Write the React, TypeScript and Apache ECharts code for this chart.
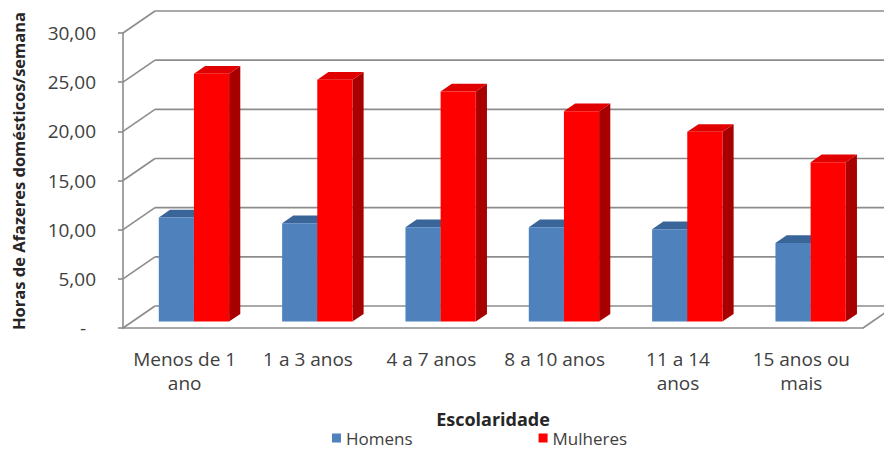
import React, { useEffect, useRef } from "react";
import * as echarts from "echarts";

// Education level (x axis) and weekly hours of housework per group
const categories = [
  "Menos de 1\nano",
  "1 a 3 anos",
  "4 a 7 anos",
  "8 a 10 anos",
  "11 a 14\nanos",
  "15 anos ou\nmais",
];
const homens = [10.6, 10.0, 9.6, 9.6, 9.4, 8.0];
const mulheres = [25.2, 24.6, 23.4, 21.4, 19.3, 16.2];
const gridValues = [0, 5, 10, 15, 20, 25, 30];

const FONT = "'Open Sans', 'Noto Sans', sans-serif";
const TEXT = "#404040";
const FRAME = "#8c8c8c";

// oblique depth of the 3D box (full depth, in px)
const DEPTH_X = 32;
const DEPTH_Y = -22;
// where the bars sit inside the depth
const F_FRONT = 0.29;
const F_BACK = 0.64;
const BAR_RATIO = 0.285;

const palette = [
  { front: "#4f81bd", top: "#3a6599", side: "#2f5685" },
  { front: "#ff0000", top: "#e00000", side: "#a80000" },
];

function barRenderer(side: number) {
  const c = palette[side];
  return (params: any, api: any) => {
    const cat = api.value(0);
    const v = api.value(1);
    const top = api.coord([cat, v]);
    const yTop = top[1];
    const yBase = api.coord([cat, 0])[1];
    const band = api.size([1, 0])[0];
    const w = band * BAR_RATIO;
    const x0 = side === 0 ? top[0] - w : top[0];
    const x1 = x0 + w;
    const fx = DEPTH_X * F_FRONT;
    const fy = DEPTH_Y * F_FRONT;
    const bx = DEPTH_X * F_BACK;
    const by = DEPTH_Y * F_BACK;
    return {
      type: "group",
      children: [
        {
          type: "polygon",
          shape: {
            points: [
              [x1 + fx, yTop + fy],
              [x1 + bx, yTop + by],
              [x1 + bx, yBase + by],
              [x1 + fx, yBase + fy],
            ],
          },
          style: { fill: c.side },
        },
        {
          type: "polygon",
          shape: {
            points: [
              [x0 + fx, yTop + fy],
              [x1 + fx, yTop + fy],
              [x1 + bx, yTop + by],
              [x0 + bx, yTop + by],
            ],
          },
          style: { fill: c.top },
        },
        {
          type: "rect",
          shape: { x: x0 + fx, y: yTop + fy, width: w, height: yBase - yTop },
          style: { fill: c.front },
        },
      ],
    };
  };
}

// side wall and back wall lines for every value tick, plus the floor's right edge
function frameRenderer(params: any, api: any) {
  const cs = params.coordSys;
  const v = api.value(1);
  const y = api.coord([0, v])[1];
  const left = cs.x;
  const right = cs.x + cs.width;
  const style = { stroke: FRAME, lineWidth: 1.6, fill: "none" };
  const children: any[] = [
    {
      type: "line",
      shape: { x1: left, y1: y, x2: left + DEPTH_X, y2: y + DEPTH_Y },
      style,
    },
    {
      type: "line",
      shape: { x1: left + DEPTH_X, y1: y + DEPTH_Y, x2: right + DEPTH_X, y2: y + DEPTH_Y },
      style,
    },
  ];
  if (v === 0) {
    children.push({
      type: "line",
      shape: { x1: right, y1: y, x2: right + DEPTH_X, y2: y + DEPTH_Y },
      style,
    });
  }
  return { type: "group", children };
}

export default function App() {
  const ref = useRef<HTMLDivElement>(null);

  useEffect(() => {
    document.body.style.margin = "0";
    const chart = echarts.init(ref.current!, undefined, { renderer: "svg" });
    chart.setOption({
      animation: false,
      backgroundColor: "#ffffff",
      textStyle: { fontFamily: FONT },
      grid: { left: 123, top: 33, width: 740, height: 295 },
      legend: {
        data: ["Homens", "Mulheres"],
        left: 327,
        top: 423,
        icon: "rect",
        itemWidth: 9,
        itemHeight: 9,
        itemGap: 126,
        textStyle: { fontFamily: FONT, fontSize: 17, color: TEXT, lineHeight: 20 },
        selectedMode: false,
      },
      graphic: [
        {
          type: "text",
          x: 18,
          y: 171,
          rotation: Math.PI / 2,
          style: {
            text: "Horas de Afazeres domésticos/semana",
            fontFamily: FONT,
            fontSize: 16.5,
            fontWeight: "bold",
            fill: "#262626",
            textAlign: "center",
            textVerticalAlign: "middle",
          },
        },
      ],
      xAxis: {
        type: "category",
        data: categories,
        name: "Escolaridade",
        nameLocation: "middle",
        nameGap: 82,
        nameTextStyle: { fontFamily: FONT, fontSize: 18, fontWeight: "bold", color: "#262626" },
        axisLine: { show: true, lineStyle: { color: FRAME, width: 1.6 } },
        axisTick: { show: false },
        axisLabel: {
          interval: 0,
          margin: 19,
          fontFamily: FONT,
          fontSize: 19,
          lineHeight: 24,
          color: TEXT,
        },
        splitLine: { show: false },
      },
      yAxis: {
        type: "value",
        min: 0,
        max: 30,
        interval: 5,
        axisLine: { show: true, lineStyle: { color: FRAME, width: 1.6 } },
        axisTick: { show: true, length: 5, lineStyle: { color: FRAME, width: 1.6 } },
        splitLine: { show: false },
        axisLabel: {
          margin: 27,
          fontFamily: FONT,
          fontSize: 19,
          color: TEXT,
          formatter: (v: number) => (v === 0 ? "{d|-}" : v.toFixed(2).replace(".", ",")),
          rich: { d: { fontFamily: FONT, fontSize: 19, color: TEXT, padding: [0, 10, 0, 0] } },
        },
      },
      series: [
        {
          type: "custom",
          name: "frame",
          silent: true,
          z: 1,
          renderItem: frameRenderer,
          encode: { x: 0, y: 1 },
          data: gridValues.map((v) => [0, v]),
        },
        {
          type: "custom",
          name: "Homens",
          silent: true,
          z: 2,
          itemStyle: { color: palette[0].front },
          renderItem: barRenderer(0),
          encode: { x: 0, y: 1 },
          data: homens.map((v, i) => [i, v]),
        },
        {
          type: "custom",
          name: "Mulheres",
          silent: true,
          z: 3,
          itemStyle: { color: palette[1].front },
          renderItem: barRenderer(1),
          encode: { x: 0, y: 1 },
          data: mulheres.map((v, i) => [i, v]),
        },
      ],
    });
    return () => chart.dispose();
  }, []);

  return (
    <div
      ref={ref}
      style={{ position: "fixed", left: 0, top: 0, width: 884, height: 450 }}
    />
  );
}
